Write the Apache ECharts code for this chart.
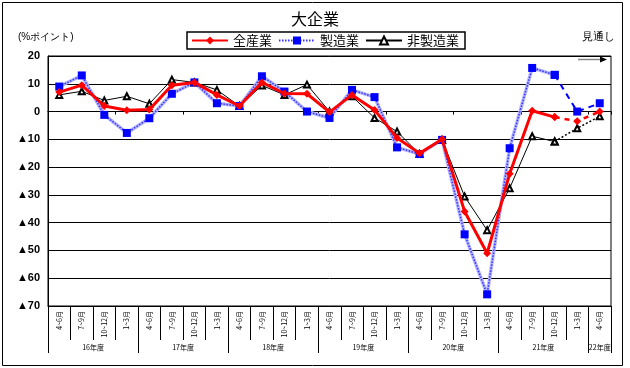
<!DOCTYPE html>
<html><head><meta charset="utf-8">
<script src="https://cdn.jsdelivr.net/npm/echarts@6/dist/echarts.min.js"></script>
<style>html,body{margin:0;padding:0;background:#fff}#c{width:630px;height:368px}</style>
</head><body><div id="c"></div>
<script>
const quarterLabels = ['4~6月','7~9月','10~12月','1~3月','4~6月','7~9月','10~12月','1~3月','4~6月','7~9月','10~12月','1~3月','4~6月','7~9月','10~12月','1~3月','4~6月','7~9月','10~12月','1~3月','4~6月','7~9月','10~12月','1~3月','4~6月'];
const yearLabels = ['16年度','17年度','18年度','19年度','20年度','21年度','22年度'];
const allIndustry = [7, 9.5, 2, 0.5, 0.7, 9.5, 10.5, 6, 2, 10.5, 6.5, 6.4, -0.2, 6, 0.6, -9.5, -15, -10, -36, -51, -22.4, 0.3, -2, -3.5, 0];
const manufacturing = [9, 13, -1.2, -7.7, -2.4, 6.4, 10.5, 3, 2, 12.7, 7.2, 0, -2.3, 7.8, 5.2, -12.9, -15.3, -10.2, -44.2, -65.8, -13.2, 15.7, 13.2, 0, 3];
const nonManufacturing = [6, 7.3, 4, 5.5, 2.8, 11.5, 10.5, 7.8, 2, 9.4, 6, 9.7, 0, 5.5, -2.3, -7.2, -15.3, -10.2, -30.6, -42.7, -27.6, -8.9, -10.8, -6, -1.7];
const forecastStart = 22;
const seriesNames = ['全産業','製造業','非製造業'];

const actual = arr => arr.map((v,i) => i <= forecastStart ? v : null);
const forecast = arr => arr.map((v,i) => i >= forecastStart ? v : null);
const n = quarterLabels.length;
const yearCenters = yearLabels.map((y,k) => (4*k + Math.min(4*k+4, n)) / 2);
const yearBounds = yearLabels.map((y,k) => 4*k).concat([n]);
const jp = '"Noto Sans CJK JP", sans-serif';

const chart = echarts.init(document.getElementById('c'), null, {renderer:'canvas'});
chart.setOption({
  animation: false,
  backgroundColor: '#fff',
  textStyle: {fontFamily: jp, color:'#000'},
  title: {text:'大企業', left:'center', top:6, textStyle:{fontSize:16, fontWeight:'normal', color:'#000', fontFamily: jp}},
  legend: {
    data: seriesNames, left:187, top:32, padding:[2,6,2,4], itemGap:6, itemWidth:36, itemHeight:10,
    borderColor:'#000', borderWidth:1.5, textStyle:{fontSize:13, color:'#000', fontFamily: jp}
  },
  grid: {left:48, right:19, top:56, bottom:62, show:true, borderColor:'#000', borderWidth:1, containLabel:false},
  xAxis: [
    {type:'category', data:quarterLabels, boundaryGap:true,
     axisLine:{onZero:true, lineStyle:{color:'#000', width:1}},
     axisTick:{show:true, length:3, lineStyle:{color:'#000'}}, axisLabel:{show:false}, splitLine:{show:false}},
    {type:'category', data:quarterLabels, position:'bottom', boundaryGap:true,
     axisLine:{onZero:false, lineStyle:{color:'#000'}},
     axisTick:{show:true, length:34, lineStyle:{color:'#000'}},
     axisLabel:{interval:0, rotate:90, fontSize:7, margin:5, color:'#000', fontFamily: jp}, splitLine:{show:false}},
    {type:'value', min:0, max:n, position:'bottom',
     axisLine:{show:false, onZero:false}, splitLine:{show:false},
     axisTick:{show:true, customValues: yearBounds, length:47, lineStyle:{color:'#000'}},
     axisLabel:{customValues: yearCenters, margin:38, fontSize:7, color:'#000', fontFamily: jp,
       formatter: v => { const k = yearCenters.indexOf(v); return k >= 0 ? yearLabels[k] : ''; }}}
  ],
  yAxis: {type:'value', min:-70, max:20, interval:10,
    axisLine:{show:true, lineStyle:{color:'#000'}}, axisTick:{show:false},
    splitLine:{show:true, lineStyle:{color:'#000', width:1}},
    axisLabel:{fontSize:11, color:'#000', margin:8, fontWeight:'bold', fontFamily:'"Liberation Sans", Arial, sans-serif',
      formatter: v => v < 0 ? '▲' + (-v) : String(v)}},
  series: [
    {name:'製造業下地', type:'line', xAxisIndex:0, data: actual(manufacturing), symbol:'none', silent:true,
     lineStyle:{color:'#b3b3ff', width:3.5}, z:1},
    {name:'非製造業', type:'line', xAxisIndex:0, data: actual(nonManufacturing), symbol:'emptyTriangle', symbolSize:6,
     itemStyle:{color:'#000', borderColor:'#000', borderWidth:0.8}, lineStyle:{color:'#000', width:1}, z:2},
    {name:'非製造業見通し', type:'line', xAxisIndex:0, data: forecast(nonManufacturing), symbol:'emptyTriangle', symbolSize:6,
     itemStyle:{color:'#000', borderColor:'#000', borderWidth:0.8}, lineStyle:{color:'#000', width:1.5, type:[2,2]}, z:2},
    {name:'製造業', type:'line', xAxisIndex:0, data: actual(manufacturing), symbol:'rect', symbolSize:8,
     itemStyle:{color:'#0000ff'}, lineStyle:{color:'#3333ff', width:1.5, type:[1.5,1.5]}, z:3},
    {name:'製造業見通し', type:'line', xAxisIndex:0, data: forecast(manufacturing), symbol:'rect', symbolSize:8,
     itemStyle:{color:'#0000ff'}, lineStyle:{color:'#0000ff', width:2, type:[6,5]}, z:3},
    {name:'全産業', type:'line', xAxisIndex:0, data: actual(allIndustry), symbol:'diamond', symbolSize:8,
     itemStyle:{color:'#ff0000'}, lineStyle:{color:'#ff0000', width:3}, z:4},
    {name:'全産業見通し', type:'line', xAxisIndex:0, data: forecast(allIndustry), symbol:'diamond', symbolSize:8,
     itemStyle:{color:'#ff0000'}, lineStyle:{color:'#ff0000', width:2.5, type:[5,5]}, z:4}
  ],
  graphic: [
    {type:'rect', shape:{x:2.5, y:2.5, width:620, height:363}, style:{fill:null, stroke:'#000', lineWidth:1}, silent:true, z:-1},
    {type:'text', left:18, top:32, style:{text:'(%ポイント)', fontSize:10, fill:'#000', font:'10px "Noto Sans CJK JP"'}},
    {type:'text', left:582, top:31, style:{text:'見通し', fontSize:11, fill:'#000', font:'11px "Noto Sans CJK JP"'}},
    {type:'line', shape:{x1:578, y1:59.5, x2:600, y2:59.5}, style:{stroke:'#888', lineWidth:1.5}},
    {type:'polygon', shape:{points:[[600,56.5],[607,59.5],[600,62.5]]}, style:{fill:'#000'}}
  ]
});
</script></body></html>
